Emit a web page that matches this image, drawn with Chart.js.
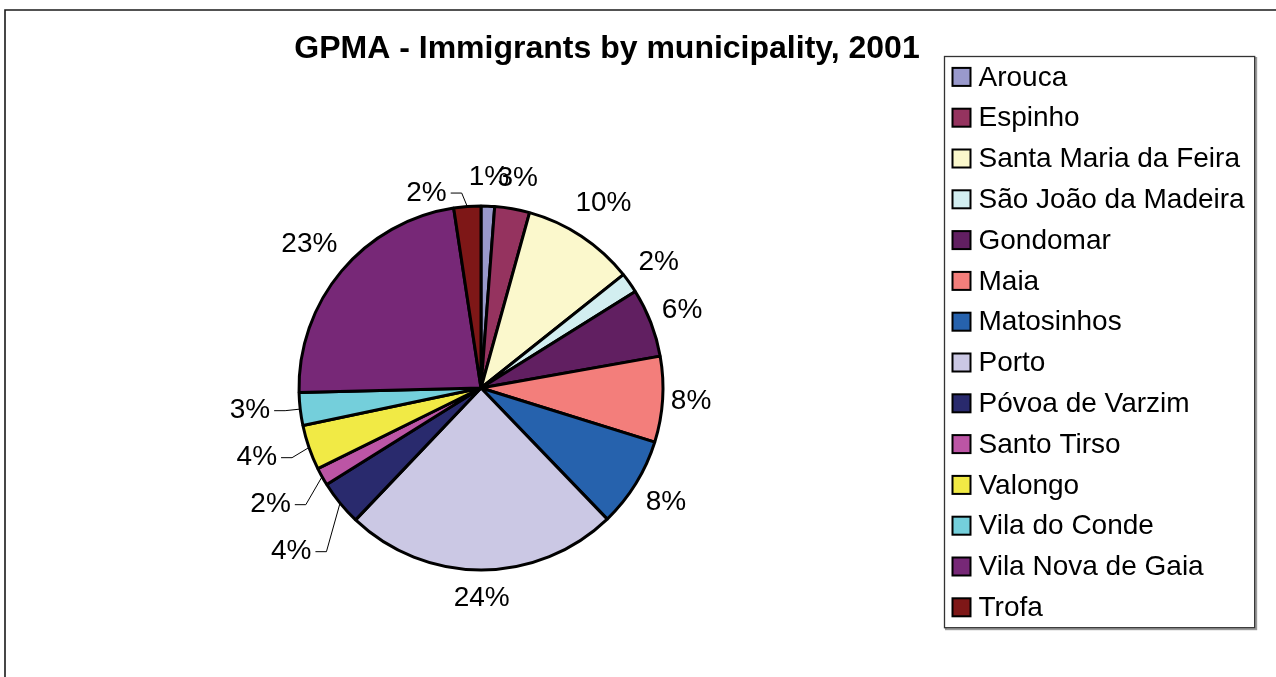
<!DOCTYPE html>
<html>
<head>
<meta charset="utf-8">
<title>GPMA - Immigrants by municipality, 2001</title>
<script src="https://cdn.jsdelivr.net/npm/chart.js@4.4.1/dist/chart.umd.min.js"></script>
<style>
  html, body { margin: 0; padding: 0; background: #fff; }
  #wrap { width: 1276px; height: 677px; }
</style>
</head>
<body>
<div id="wrap"><canvas id="pieChart" width="1276" height="677"></canvas></div>
<script>
// Share of immigrants (%) living in each municipality of the GPMA, 2001
const municipalities = [
    'Arouca', 'Espinho', 'Santa Maria da Feira', 'São João da Madeira',
    'Gondomar', 'Maia', 'Matosinhos', 'Porto', 'Póvoa de Varzim',
    'Santo Tirso', 'Valongo', 'Vila do Conde', 'Vila Nova de Gaia', 'Trofa'
];
const immigrantShare = [1.2, 3.1, 10.0, 1.8, 6.1, 7.6, 8.0, 24.3, 4.0, 1.6, 4.0, 2.9, 23.0, 2.4];
const sliceColors = [
    '#9999cc', '#95335f', '#fbf8cc', '#d2eef0', '#611f61', '#f37e7b', '#2662ad',
    '#cbc8e4', '#292a6d', '#bc55a5', '#f1ea45', '#74cfdb', '#772877', '#7e1717'
];
const chartTitle = 'GPMA - Immigrants by municipality, 2001';

const FONT = '"Liberation Sans", Arial, Helvetica, sans-serif';

// white background, the open frame and the title
const framePlugin = {
    id: 'frame',
    beforeDraw(chart, args, opts) {
        const ctx = chart.ctx;
        ctx.save();
        ctx.fillStyle = '#fff';
        ctx.fillRect(0, 0, chart.width, chart.height);
        ctx.strokeStyle = '#1a1a1a';
        ctx.lineWidth = 1.6;
        ctx.beginPath();
        ctx.moveTo(5, chart.height);
        ctx.lineTo(5, 10);
        ctx.lineTo(chart.width, 10);
        ctx.stroke();
        ctx.fillStyle = '#000';
        ctx.font = 'bold ' + opts.size + 'px ' + FONT;
        ctx.textAlign = 'center';
        ctx.textBaseline = 'middle';
        ctx.fillText(opts.text, opts.x, opts.y);
        ctx.restore();
    }
};

// percentage labels outside the pie; thin slices on the left get pushed out with a leader
const pieLabels = {
    id: 'pieLabels',
    afterDatasetsDraw(chart, args, opts) {
        const ctx = chart.ctx;
        const meta = chart.getDatasetMeta(0);
        const values = chart.data.datasets[0].data;
        const total = values.reduce((a, b) => a + b, 0);
        ctx.save();
        ctx.font = opts.size + 'px ' + FONT;

        const labels = meta.data.map((arc, i) => {
            const mid = (arc.startAngle + arc.endAngle) / 2;
            const dx = Math.cos(mid), dy = Math.sin(mid);
            const text = Math.round(values[i] / total * 100) + '%';
            const w = ctx.measureText(text).width;
            const r = arc.outerRadius;
            const d = r + opts.gap + Math.abs(dx) * w / 2 + Math.abs(dy) * opts.halfHeight;
            const lbl = {
                text, w, dx, dy,
                x: arc.x + dx * d, y: arc.y + dy * d,
                ax: arc.x + dx * r, ay: arc.y + dy * r,
                pulled: false
            };
            if (dx < 0 && values[i] / total < opts.pullBelow) {
                lbl.pulled = true;
                lbl.x -= opts.pull;
                lbl.y = lbl.ay + dy * opts.rise;
            }
            return lbl;
        });

        // stack the pulled labels below the pie's middle so they don't crowd
        const lowerLeft = labels.filter(l => l.pulled && l.dy > 0).sort((a, b) => a.y - b.y);
        for (let k = 1; k < lowerLeft.length; k++) {
            lowerLeft[k].y = Math.max(lowerLeft[k].y, lowerLeft[k - 1].y + opts.rowPitch);
        }

        // keep pulled labels clear of the regular ones
        labels.filter(l => l.pulled).forEach(l => {
            labels.filter(o => !o.pulled).forEach(o => {
                if (Math.abs(l.y - o.y) >= opts.halfHeight * 2) return;
                const right = l.x + l.w / 2 + opts.boxPad;
                const limit = o.x - o.w / 2 - opts.boxPad - opts.boxGap;
                if (right > limit && l.x < o.x) l.x -= right - limit;
            });
        });

        ctx.strokeStyle = '#000';
        ctx.lineWidth = 1;
        labels.filter(l => l.pulled).forEach(l => {
            const sx = l.x + l.w / 2 + 4;
            ctx.beginPath();
            ctx.moveTo(sx, l.y);
            ctx.lineTo(sx + opts.elbow, l.y);
            ctx.lineTo(l.ax, l.ay);
            ctx.stroke();
        });

        ctx.fillStyle = '#000';
        ctx.textAlign = 'center';
        ctx.textBaseline = 'middle';
        labels.forEach(l => ctx.fillText(l.text, l.x, l.y));
        ctx.restore();
    }
};

// boxed legend at the right
const sideLegend = {
    id: 'sideLegend',
    afterDraw(chart, args, opts) {
        const ctx = chart.ctx;
        const names = chart.data.labels;
        const colors = chart.data.datasets[0].backgroundColor;
        ctx.save();
        ctx.font = opts.size + 'px ' + FONT;
        const textW = Math.max(...names.map(n => ctx.measureText(n).width));
        const w = opts.padLeft + opts.box + opts.boxGap + textW + opts.padRight;
        const h = names.length * opts.pitch;
        const left = Math.round(opts.right - w) + 0.5;
        const top = opts.top + 0.5;

        ctx.strokeStyle = '#9a9a9a';
        ctx.lineWidth = 2;
        ctx.strokeRect(left + 1.5, top + 1.5, w, h);
        ctx.fillStyle = '#fff';
        ctx.fillRect(left, top, w, h);
        ctx.strokeStyle = '#333';
        ctx.lineWidth = 1.3;
        ctx.strokeRect(left, top, w, h);

        ctx.textAlign = 'left';
        ctx.textBaseline = 'middle';
        names.forEach((name, i) => {
            const cy = top + opts.pitch * (i + 0.5);
            const bx = left + opts.padLeft;
            ctx.fillStyle = colors[i];
            ctx.fillRect(bx, cy - opts.box / 2, opts.box, opts.box);
            ctx.strokeStyle = '#000';
            ctx.lineWidth = 2;
            ctx.strokeRect(bx, cy - opts.box / 2, opts.box, opts.box);
            ctx.fillStyle = '#000';
            ctx.fillText(name, bx + opts.box + opts.boxGap, cy + 1);
        });
        ctx.restore();
    }
};

new Chart(document.getElementById('pieChart').getContext('2d'), {
    type: 'pie',
    data: {
        labels: municipalities,
        datasets: [{
            data: immigrantShare,
            backgroundColor: sliceColors,
            borderColor: '#000',
            borderWidth: 3
        }]
    },
    options: {
        responsive: false,
        animation: false,
        radius: 182,
        layout: {
            padding: { left: 100, right: 414, top: 149, bottom: 50 }
        },
        plugins: {
            legend: { display: false },
            tooltip: { enabled: false },
            title: { display: false },
            frame: { text: chartTitle, size: 32, x: 607, y: 49 },
            pieLabels: {
                size: 28, gap: 7, halfHeight: 21, pullBelow: 0.05, pull: 21,
                rise: 13.5, rowPitch: 47, boxPad: 6, boxGap: 10, elbow: 11
            },
            sideLegend: {
                size: 28, right: 1254, top: 56, pitch: 40.8,
                padLeft: 8, box: 18, boxGap: 8, padRight: 10
            }
        }
    },
    plugins: [framePlugin, pieLabels, sideLegend]
});
</script>
</body>
</html>
